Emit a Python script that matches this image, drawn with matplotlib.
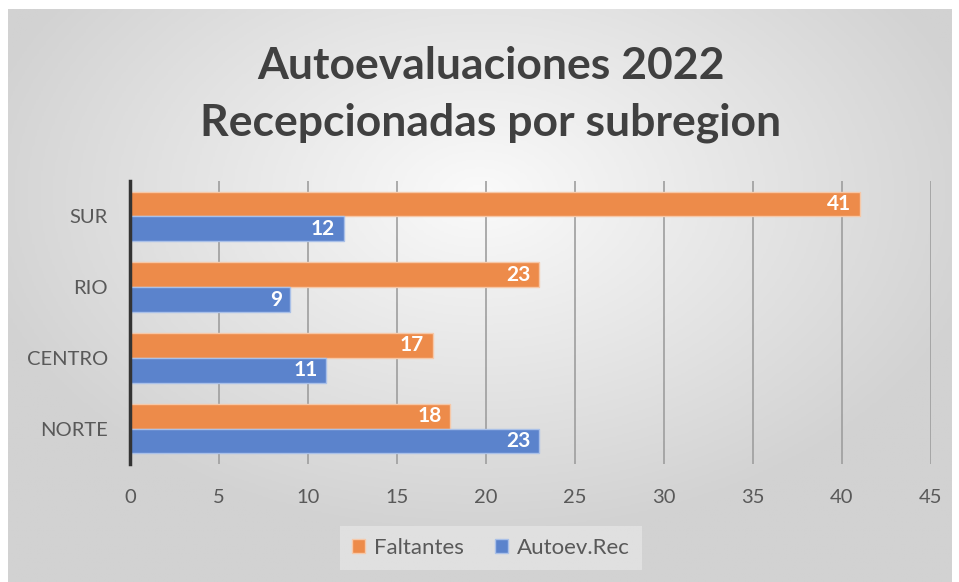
import numpy as np
import matplotlib
import matplotlib.pyplot as plt
matplotlib.use("Agg")

# Data
regions = ["NORTE", "CENTRO", "RIO", "SUR"]
faltantes = [18, 17, 23, 41]
autoev_rec = [23, 11, 9, 12]

orange = "#ED8B4A"
blue = "#5B83CC"
text_grey = "#595959"

plt.rcParams["font.family"] = ["Lato", "DejaVu Sans"]

fig = plt.figure(figsize=(9.59, 5.82), dpi=100)

# Radial grey gradient background of the chart area
bg = fig.add_axes([0.008, 0.0, 0.984, 0.985], zorder=-10)
gx, gy = np.meshgrid(np.linspace(-1, 1, 400), np.linspace(-1, 1, 250))
r = np.sqrt((gx / 1.1) ** 2 + ((gy + 0.35) / 1.2) ** 2)
bg.imshow(np.clip(r, 0, 1), cmap=matplotlib.colors.LinearSegmentedColormap.from_list(
    "bg", ["#FAFAFA", "#D2D2D2"]), aspect="auto", extent=[0, 1, 0, 1])
bg.set_axis_off()

ax = fig.add_axes([130 / 959, 1 - 464 / 582, (931 - 130) / 959, (464 - 181) / 582])
ax.patch.set_alpha(0)

y = np.arange(len(regions))
h = 0.35
b1 = ax.barh(y + h / 2, faltantes, height=h, color=orange, edgecolor="#F6C8A8",
             linewidth=1, label="Faltantes", zorder=3)
b2 = ax.barh(y - h / 2, autoev_rec, height=h, color=blue, edgecolor="#A9C0E8",
             linewidth=1, label="Autoev.Rec", zorder=3)

# Value labels inside the bar ends
for yy, vals in ((y + h / 2, faltantes), (y - h / 2, autoev_rec)):
    for v, yc in zip(vals, yy):
        ax.annotate(str(v), (v, yc), xytext=(-6, 0), textcoords="offset points",
                    ha="right", va="center", color="white", fontsize=15,
                    fontweight="bold", zorder=5)

ax.set_xlim(0, 45)
ax.set_ylim(-0.5, 3.5)
ax.set_xticks(range(0, 46, 5))
ax.set_yticks(y)
ax.set_yticklabels(regions)
ax.tick_params(axis="both", length=0, colors=text_grey, labelsize=14.5)
ax.tick_params(axis="y", pad=16)
ax.tick_params(axis="x", pad=18)
ax.grid(axis="x", color="#9E9E9E", linewidth=1.2, zorder=0)
for s in ["top", "right", "bottom"]:
    ax.spines[s].set_visible(False)
ax.spines["left"].set_color("#333333")
ax.spines["left"].set_linewidth(2.5)
ax.spines["left"].set_zorder(4)

fig.text(491 / 959, 1 - 66 / 582, "Autoevaluaciones 2022", ha="center", va="center",
         fontsize=32, fontweight="bold", color="#404040")
fig.text(491 / 959, 1 - 123 / 582, "Recepcionadas por subregion", ha="center", va="center",
         fontsize=32, fontweight="bold", color="#404040")

leg = fig.legend(loc="center", bbox_to_anchor=(491 / 959, 1 - 548 / 582), ncol=2,
                 fontsize=16, frameon=True, handlelength=0.6, handleheight=0.6,
                 handletextpad=0.4, columnspacing=1.4, borderpad=0.55)
leg.get_frame().set_facecolor("#E6E6E6")
leg.get_frame().set_edgecolor("none")
leg.get_frame().set_alpha(0.7)
leg.get_frame().set_boxstyle("square", pad=0)
for t in leg.get_texts():
    t.set_color(text_grey)

fig.savefig("out.png", dpi=100)
